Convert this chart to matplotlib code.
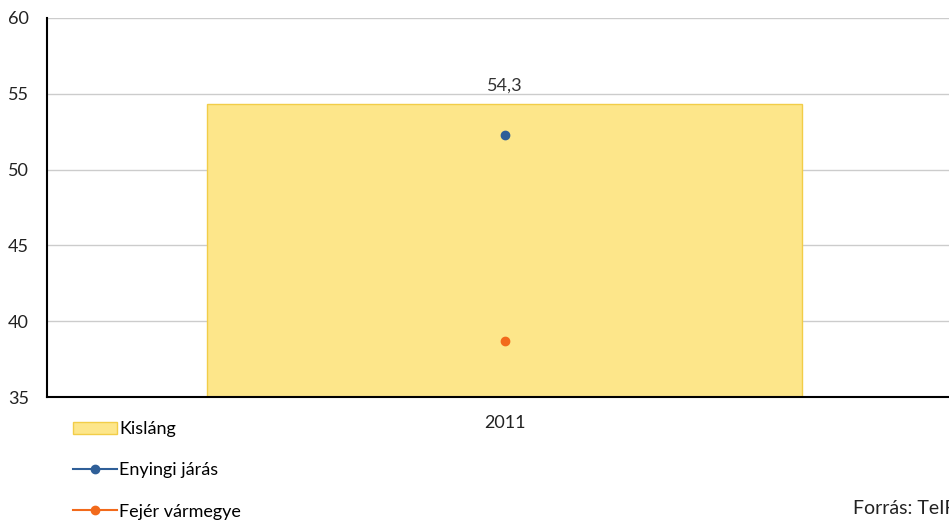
import matplotlib.pyplot as plt
from matplotlib.patches import Patch
from matplotlib.lines import Line2D

plt.rcParams['font.family'] = ['Lato', 'DejaVu Sans']

# data
years = ["2011"]
kislang = [54.3]
enyingi = [52.3]
fejer = [38.7]

bar_color = "#FDE68A"
bar_edge = "#F2CD48"
blue = "#2F5F98"
orange = "#F26A1B"
fs = 13

fig = plt.figure(figsize=(9.49, 5.25), dpi=100)
# axes run slightly past the right edge, as in the original
ax = fig.add_axes([47 / 949, 1 - 397 / 525, 915 / 949, 379 / 525])

x = list(range(len(years)))
ax.bar(x, kislang, width=0.65, bottom=0, color=bar_color,
       edgecolor=bar_edge, linewidth=1, zorder=2)
ax.plot(x, enyingi, color=blue, marker="o", markersize=6, linestyle="-", zorder=3)
ax.plot(x, fejer, color=orange, marker="o", markersize=6, linestyle="-", zorder=3)

for xi, v in zip(x, kislang):
    ax.text(xi, v + 0.7, f"{v:.1f}".replace(".", ","), ha="center", va="bottom",
            fontsize=fs, color="#333333")

ax.set_ylim(35, 60)
ax.set_xlim(-0.5, 0.5)
ax.set_yticks([35, 40, 45, 50, 55, 60])
ax.set_xticks(x)
ax.set_xticklabels(years)
ax.tick_params(axis="both", length=0, labelsize=fs, colors="#222222")
ax.tick_params(axis="x", pad=13)
ax.tick_params(axis="y", pad=13)
ax.yaxis.grid(True, color="#CCCCCC", linewidth=1)
ax.set_axisbelow(True)
for s in ["top", "right"]:
    ax.spines[s].set_visible(False)
ax.spines["left"].set_color("black")
ax.spines["bottom"].set_color("black")
ax.spines["left"].set_linewidth(1.5)
ax.spines["bottom"].set_linewidth(1.5)

handles = [
    Patch(facecolor=bar_color, edgecolor=bar_edge, label="Kisláng"),
    Line2D([0], [0], color=blue, marker="o", markersize=6, label="Enyingi járás"),
    Line2D([0], [0], color=orange, marker="o", markersize=6, label="Fejér vármegye"),
]
fig.legend(handles=handles, loc="upper left", bbox_to_anchor=(66 / 949, 1 - 414 / 525),
           frameon=False, fontsize=fs, labelspacing=1.4, handlelength=2.4,
           handletextpad=0.15, borderaxespad=0)

fig.text(853 / 949, 1 - 508 / 525, "Forrás: TeIR", fontsize=14, color="#222222",
         ha="left", va="center")

plt.savefig("out.png", dpi=100)
